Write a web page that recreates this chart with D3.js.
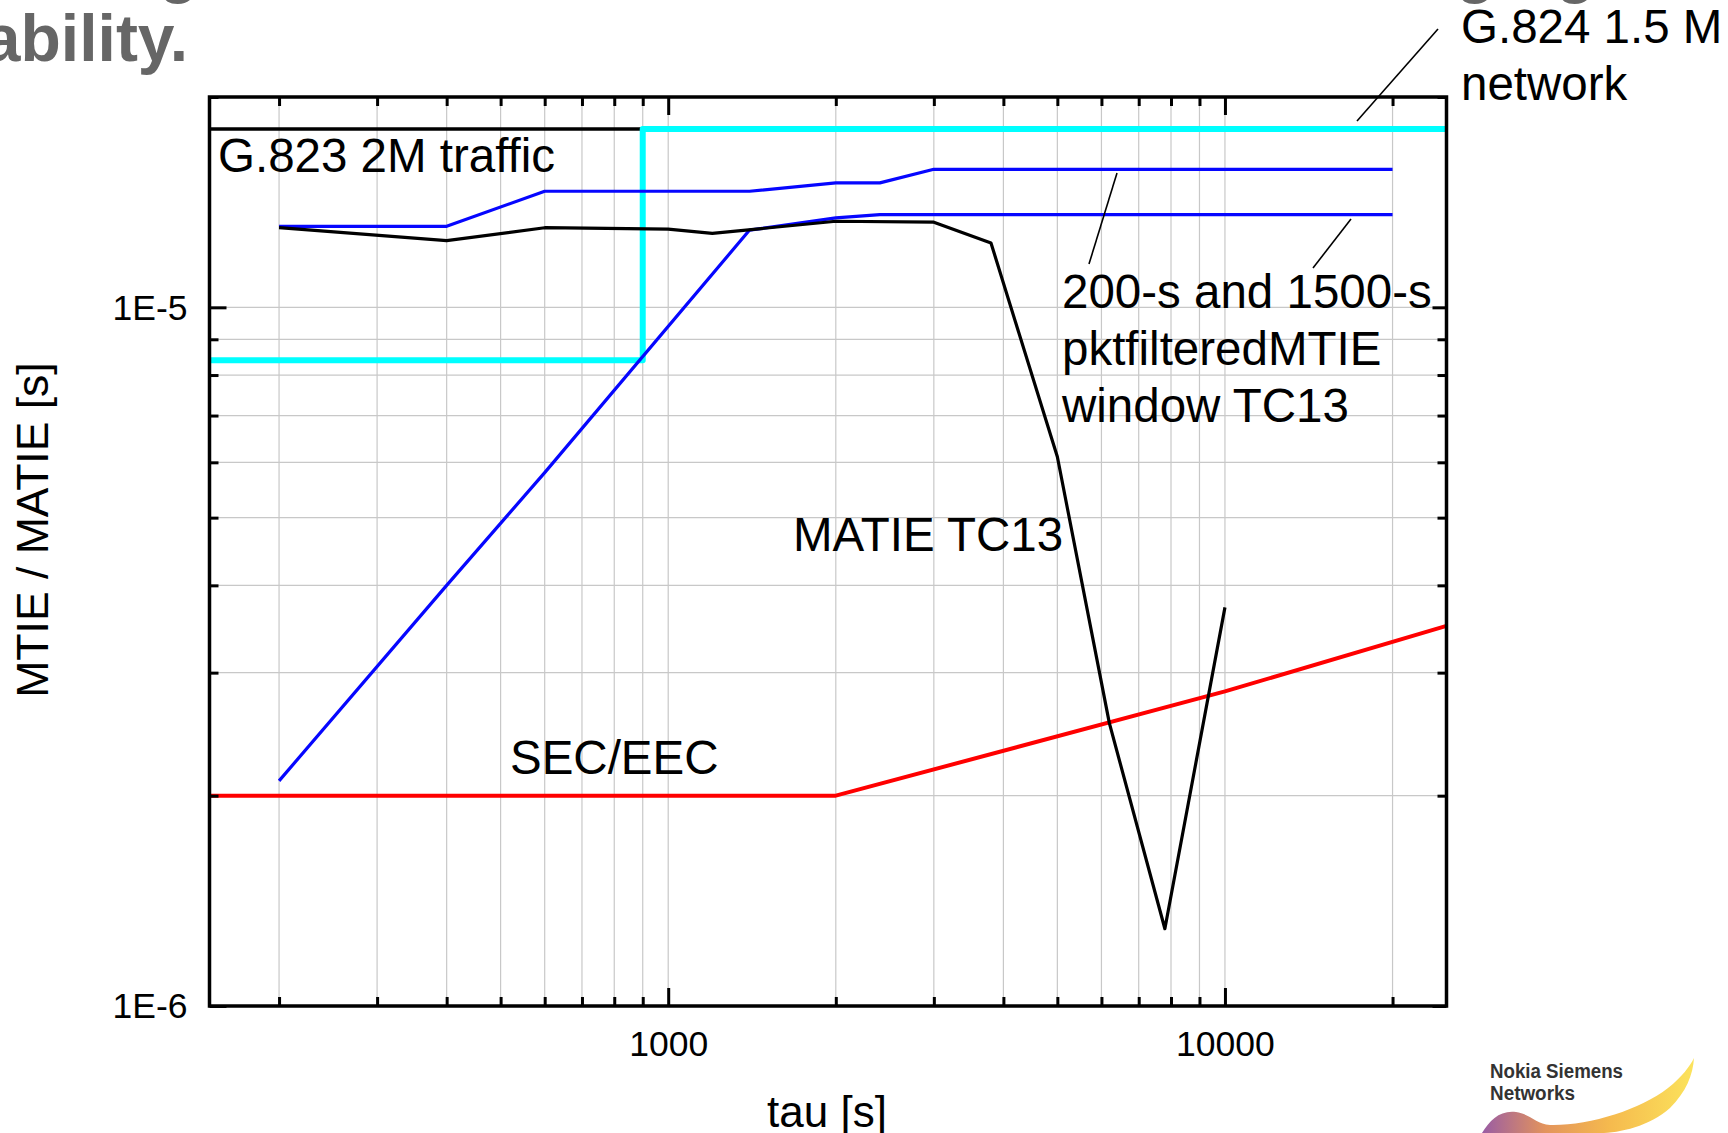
<!DOCTYPE html>
<html><head><meta charset="utf-8">
<script src="https://cdn.jsdelivr.net/npm/d3@7"></script>
<style>
body{margin:0;background:#fff;overflow:hidden}
svg{display:block}
text{font-family:"Liberation Sans",Arial,Helvetica,sans-serif}
</style>
</head><body>
<svg id="c" width="1728" height="1133"></svg>
<script>
// ---------- data ----------
const xDomain = [150, 25000];
const yDomain = [1e-6, 2e-5];
const xTickValues = [200,300,400,500,600,700,800,900,1000,2000,3000,4000,5000,6000,7000,8000,9000,10000,20000];
const xMajor = [1000, 10000];
const xMajorLabels = ["1000", "10000"];
const yTickValues = [1e-6,2e-6,3e-6,4e-6,5e-6,6e-6,7e-6,8e-6,9e-6,1e-5,2e-5];
const yMajor = [1e-6, 1e-5];
const yMajorLabels = ["1E-6", "1E-5"];

// G.823 2M traffic limit
const g823Tau = [150, 900];
const g823Val = [1.8e-5, 1.8e-5];
// G.824 1.5M network limit
const g824Tau = [150, 900, 900, 25000];
const g824Val = [8.4e-6, 8.4e-6, 1.8e-5, 1.8e-5];
// SEC/EEC
const secTau = [150, 2000, 10000, 25000];
const secVal = [2e-6, 2e-6, 2.82e-6, 3.5e-6];
// pktfilteredMTIE 200-s window
const pkt200Tau = [200, 400, 600, 1400, 2000, 2400, 3000, 20000];
const pkt200Val = [1.306e-5, 1.306e-5, 1.466e-5, 1.466e-5, 1.507e-5, 1.507e-5, 1.576e-5, 1.576e-5];
// pktfilteredMTIE 1500-s window
const pkt1500Tau = [200, 400, 600, 1400, 2000, 2400, 20000];
const pkt1500Val = [2.1e-6, 4.0e-6, 5.8e-6, 1.29e-5, 1.343e-5, 1.357e-5, 1.357e-5];
// MATIE TC13
const matieTau = [200, 400, 600, 1000, 1200, 2000, 3000, 3800, 5000, 6200, 7800, 10000];
const matieVal = [1.30e-5, 1.246e-5, 1.30e-5, 1.294e-5, 1.276e-5, 1.328e-5, 1.324e-5, 1.236e-5, 6.11e-6, 2.54e-6, 1.29e-6, 3.72e-6];

// ---------- layout ----------
const m = {left: 209.5, right: 1446.5, top: 97, bottom: 1006};
const svg = d3.select("#c");
const x = d3.scaleLog().domain(xDomain).range([m.left, m.right]);
const y = d3.scaleLog().domain(yDomain).range([m.bottom, m.top]);

// title remnants (cut off at the top of the slide, as in the reference)
svg.append("text").attr("x", 188).attr("y", 61).attr("text-anchor", "end")
  .attr("font-size", 66).attr("font-weight", "bold").attr("fill", "#666").text("ability.");
[159, 1456, 1556].forEach(px => {
  svg.append("text").attr("x", px).attr("y", -9).attr("font-size", 64)
    .attr("font-weight", "bold").attr("fill", "#666").text("g");
});

// grid
const grid = svg.append("g").attr("stroke", "#c8c8c8").attr("stroke-width", 1.2);
grid.selectAll(".gx").data(xTickValues).join("line")
  .attr("x1", d => x(d)).attr("x2", d => x(d)).attr("y1", m.top).attr("y2", m.bottom);
grid.selectAll(".gy").data(yTickValues).join("line")
  .attr("y1", d => y(d)).attr("y2", d => y(d)).attr("x1", m.left).attr("x2", m.right);

// series
const line = d3.line().x(d => x(d[0])).y(d => y(d[1]));
function series(t, v, color, w) {
  svg.append("path").datum(d3.zip(t, v)).attr("d", line)
    .attr("fill", "none").attr("stroke", color).attr("stroke-width", w)
    .attr("stroke-linejoin", "round");
}
series(secTau, secVal, "#ff0000", 4);
series(g823Tau, g823Val, "#000000", 3.5);
series(g824Tau, g824Val, "#00ffff", 6);
series(pkt200Tau, pkt200Val, "#0606ff", 3.2);
series(pkt1500Tau, pkt1500Val, "#0606ff", 3.2);
series(matieTau, matieVal, "#000000", 3.2);

// axes
const fmtX = d => { const i = xMajor.indexOf(d); return i >= 0 ? xMajorLabels[i] : ""; };
const fmtY = d => { const i = yMajor.findIndex(v => Math.abs(v - d) / v < 1e-9); return i >= 0 ? yMajorLabels[i] : ""; };
const isMajX = d => xMajor.includes(d);
const isMajY = d => yMajor.some(v => Math.abs(v - d) / v < 1e-9);

function styleAxis(g) {
  g.select(".domain").remove();
  g.selectAll(".tick line").attr("stroke", "#000").attr("stroke-width", 3);
  g.selectAll(".tick text").attr("fill", "#000").attr("font-size", 35.5)
    .attr("font-family", "Liberation Sans, Arial, sans-serif");
}
const gB = svg.append("g").attr("transform", `translate(0,${m.bottom})`)
  .call(d3.axisBottom(x).tickValues(xTickValues).tickSize(-9).tickFormat(fmtX));
styleAxis(gB);
gB.selectAll(".tick line").filter(isMajX).attr("y2", -18);
gB.selectAll(".tick text").attr("y", 50).attr("dy", 0);

const gT = svg.append("g").attr("transform", `translate(0,${m.top})`)
  .call(d3.axisTop(x).tickValues(xTickValues).tickSize(-9).tickFormat(""));
styleAxis(gT);
gT.selectAll(".tick line").filter(isMajX).attr("y2", 18);

const gL = svg.append("g").attr("transform", `translate(${m.left},0)`)
  .call(d3.axisLeft(y).tickValues(yTickValues).tickSize(-9).tickPadding(22).tickFormat(fmtY));
styleAxis(gL);
gL.selectAll(".tick line").filter(isMajY).attr("x2", 17);
gL.selectAll(".tick text").attr("dy", "0.33em");

const gR = svg.append("g").attr("transform", `translate(${m.right},0)`)
  .call(d3.axisRight(y).tickValues(yTickValues).tickSize(-9).tickFormat(""));
styleAxis(gR);
gR.selectAll(".tick line").filter(isMajY).attr("x2", -14);

// frame
svg.append("rect").attr("x", m.left).attr("y", m.top)
  .attr("width", m.right - m.left).attr("height", m.bottom - m.top)
  .attr("fill", "none").attr("stroke", "#000").attr("stroke-width", 3.5);

// axis titles
svg.append("text").attr("x", 827).attr("y", 1127).attr("text-anchor", "middle")
  .attr("font-size", 44).text("tau [s]");
svg.append("text").attr("transform", "translate(48,530) rotate(-90)")
  .attr("text-anchor", "middle").attr("font-size", 44.5).text("MTIE / MATIE [s]");

// annotations
const ann = svg.append("g").attr("font-size", 47.5).attr("fill", "#000");
ann.append("text").attr("x", 218).attr("y", 172).text("G.823 2M traffic");
ann.append("text").attr("x", 1461).attr("y", 43).text("G.824 1.5 M");
ann.append("text").attr("x", 1461).attr("y", 100).text("network");
ann.append("text").attr("x", 1062).attr("y", 308).text("200-s and 1500-s");
ann.append("text").attr("x", 1062).attr("y", 365).text("pktfilteredMTIE");
ann.append("text").attr("x", 1062).attr("y", 422).text("window TC13");
ann.append("text").attr("x", 793).attr("y", 551).text("MATIE TC13");
ann.append("text").attr("x", 510).attr("y", 774).text("SEC/EEC");

const leaders = svg.append("g").attr("stroke", "#000").attr("stroke-width", 1.6);
[[1438, 29, 1357, 121], [1117, 173, 1089, 264], [1351, 219, 1313, 268]].forEach(l => {
  leaders.append("line").attr("x1", l[0]).attr("y1", l[1]).attr("x2", l[2]).attr("y2", l[3]);
});

// logo
const defs = svg.append("defs");
const gr = defs.append("linearGradient").attr("id", "nsn").attr("x1", "0").attr("x2", "1").attr("y1", "0").attr("y2", "0");
gr.append("stop").attr("offset", "0").attr("stop-color", "#8e4a9a");
gr.append("stop").attr("offset", "0.3").attr("stop-color", "#e0884a");
gr.append("stop").attr("offset", "0.6").attr("stop-color", "#f4b23a");
gr.append("stop").attr("offset", "1").attr("stop-color", "#fbe04a");
svg.append("path")
  .attr("d", "M1482,1133 C1490,1120 1500,1110 1516,1112 C1530,1114 1536,1124 1550,1125 C1588,1126 1640,1110 1668,1088 C1682,1077 1690,1066 1694,1058 C1693,1075 1686,1092 1670,1108 C1650,1126 1620,1133 1600,1133 Z")
  .attr("fill", "url(#nsn)").attr("opacity", 0.9);
svg.append("text").attr("x", 1490).attr("y", 1078).attr("font-size", 20).attr("font-weight", "bold")
  .attr("fill", "#333").attr("textLength", 133).attr("lengthAdjust", "spacingAndGlyphs").text("Nokia Siemens");
svg.append("text").attr("x", 1490).attr("y", 1100).attr("font-size", 20).attr("font-weight", "bold")
  .attr("fill", "#333").attr("textLength", 85).attr("lengthAdjust", "spacingAndGlyphs").text("Networks");
</script>
</body></html>
